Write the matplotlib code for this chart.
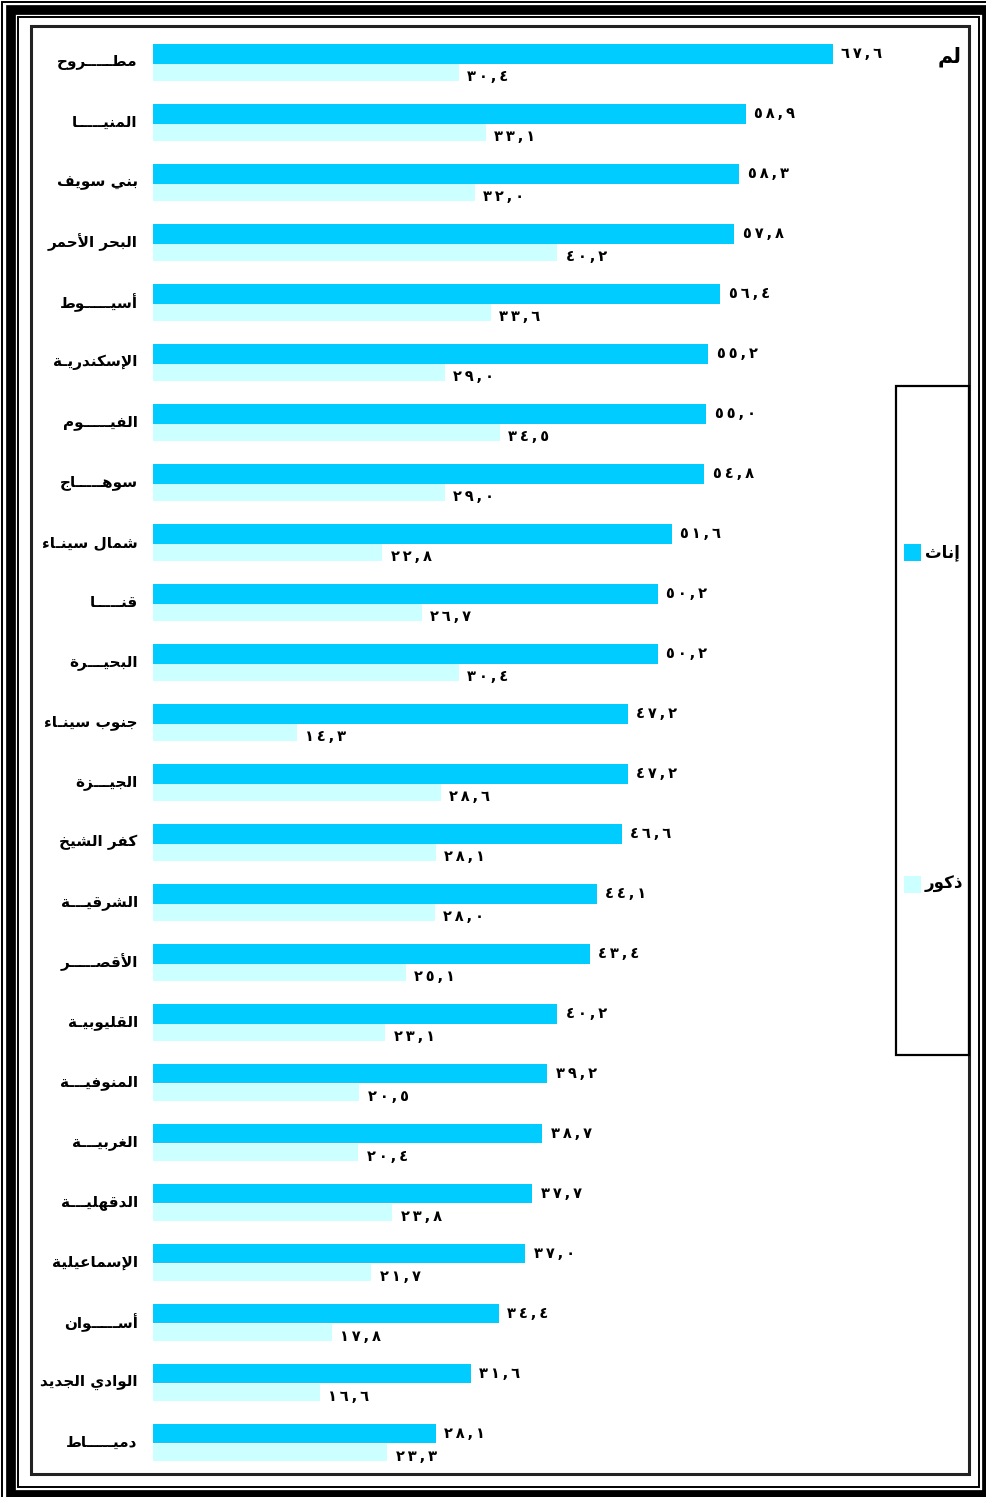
"""Horizontal bar chart by governorate: females vs males."""
import matplotlib
matplotlib.use("Agg")
import matplotlib.pyplot as plt
from matplotlib.patches import Rectangle

# Data.
governorates = [
    "مطـــــروح", "المنيـــــا", "بني سويف", "البحر الأحمر", "أسيـــــوط",
    "الإسكندريـة", "الفيـــــوم", "سوهـــــاج", "شمال سينـاء", "قنـــــا",
    "البحيـــرة", "جنوب سينـاء", "الجيـــزة", "كفر الشيخ", "الشرقيـــة",
    "الأقصـــــر", "القليوبيـة", "المنوفيـــة", "الغربيـــة", "الدقهليـــة",
    "الإسماعيلية", "أســـــوان", "الوادي الجديد", "دميـــــاط",
]
females = [67.6, 58.9, 58.3, 57.8, 56.4, 55.2, 55.0, 54.8, 51.6, 50.2,
           50.2, 47.2, 47.2, 46.6, 44.1, 43.4, 40.2, 39.2, 38.7, 37.7,
           37.0, 34.4, 31.6, 28.1]
males = [30.4, 33.1, 32.0, 40.2, 33.6, 29.0, 34.5, 29.0, 22.8, 26.7,
         30.4, 14.3, 28.6, 28.1, 28.0, 25.1, 23.1, 20.5, 20.4, 23.8,
         21.7, 17.8, 16.6, 23.3]
series_labels = ["إناث", "ذكور"]
series_colors = ["#00CCFF", "#CCFFFF"]
corner_text = "لم"

# Minimal Arabic shaping (matplotlib has no bidi / joining support).
FORMS = {
    "آ": ("\uFE81", "\uFE82"), "أ": ("\uFE83", "\uFE84"),
    "ؤ": ("\uFE85", "\uFE86"), "إ": ("\uFE87", "\uFE88"),
    "ا": ("\uFE8D", "\uFE8E"), "ة": ("\uFE93", "\uFE94"),
    "د": ("\uFEA9", "\uFEAA"), "ذ": ("\uFEAB", "\uFEAC"),
    "ر": ("\uFEAD", "\uFEAE"), "ز": ("\uFEAF", "\uFEB0"),
    "و": ("\uFEED", "\uFEEE"),
    "ئ": ("\uFE89", "\uFE8A", "\uFE8B", "\uFE8C"),
    "ب": ("\uFE8F", "\uFE90", "\uFE91", "\uFE92"),
    "ت": ("\uFE95", "\uFE96", "\uFE97", "\uFE98"),
    "ث": ("\uFE99", "\uFE9A", "\uFE9B", "\uFE9C"),
    "ج": ("\uFE9D", "\uFE9E", "\uFE9F", "\uFEA0"),
    "ح": ("\uFEA1", "\uFEA2", "\uFEA3", "\uFEA4"),
    "خ": ("\uFEA5", "\uFEA6", "\uFEA7", "\uFEA8"),
    "س": ("\uFEB1", "\uFEB2", "\uFEB3", "\uFEB4"),
    "ش": ("\uFEB5", "\uFEB6", "\uFEB7", "\uFEB8"),
    "ص": ("\uFEB9", "\uFEBA", "\uFEBB", "\uFEBC"),
    "ط": ("\uFEC1", "\uFEC2", "\uFEC3", "\uFEC4"),
    "ع": ("\uFEC9", "\uFECA", "\uFECB", "\uFECC"),
    "غ": ("\uFECD", "\uFECE", "\uFECF", "\uFED0"),
    "ف": ("\uFED1", "\uFED2", "\uFED3", "\uFED4"),
    "ق": ("\uFED5", "\uFED6", "\uFED7", "\uFED8"),
    "ك": ("\uFED9", "\uFEDA", "\uFEDB", "\uFEDC"),
    "ل": ("\uFEDD", "\uFEDE", "\uFEDF", "\uFEE0"),
    "م": ("\uFEE1", "\uFEE2", "\uFEE3", "\uFEE4"),
    "ن": ("\uFEE5", "\uFEE6", "\uFEE7", "\uFEE8"),
    "ه": ("\uFEE9", "\uFEEA", "\uFEEB", "\uFEEC"),
    "ي": ("\uFEF1", "\uFEF2", "\uFEF3", "\uFEF4"),
}
LAM_ALEF = {"آ": ("\uFEF5", "\uFEF6"), "أ": ("\uFEF7", "\uFEF8"),
            "إ": ("\uFEF9", "\uFEFA"), "ا": ("\uFEFB", "\uFEFC")}
TATWEEL = "\u0640"


def joins_next(c):
    return c == TATWEEL or (c in FORMS and len(FORMS[c]) == 4)


def joins_prev(c):
    return c == TATWEEL or c in FORMS


def shape(text):
    out = []
    i = 0
    while i < len(text):
        c = text[i]
        prev = text[i - 1] if i > 0 else ""
        nxt = text[i + 1] if i + 1 < len(text) else ""
        cp = bool(prev) and joins_next(prev)
        if c == "ل" and nxt in LAM_ALEF:
            out.append(LAM_ALEF[nxt][1 if cp else 0])
            i += 2
            continue
        if c in FORMS:
            f = FORMS[c]
            cn = bool(nxt) and len(f) == 4 and joins_prev(nxt)
            if cp and cn:
                out.append(f[3])
            elif cn:
                out.append(f[2])
            elif cp:
                out.append(f[1])
            else:
                out.append(f[0])
        else:
            out.append(c)
        i += 1
    return "".join(reversed(out))


def arabic_number(v):
    digits = "٠١٢٣٤٥٦٧٨٩"
    s = f"{v:.1f}".replace(".", ",")
    # spread the characters a little, as in the original
    return "\u2009".join(digits[int(ch)] if ch.isdigit() else ch for ch in s)


W, H = 986, 1497
plt.rcParams.update({'font.family': ['DejaVu Sans'], 'font.weight': 'bold'})
fig = plt.figure(figsize=(W / 100, H / 100), dpi=100)


def fx(px):
    return px / W


def fy(py):
    return 1 - py / H


def frame(x0, y0, x1, y1, lw, color="black"):
    fig.patches.append(Rectangle((fx(x0), fy(y1)), fx(x1) - fx(x0),
                                 fy(y0) - fy(y1), transform=fig.transFigure,
                                 fill=False, lw=lw, ec=color))


# Page border (thin / thick / thin) and inner frame.
frame(2, 2, 994, 1505, 1.4)
frame(10.5, 9.5, 987, 1495, 7)
frame(18, 17, 979, 1487, 1.4)
frame(31, 26, 969, 1474, 2.2, "#222222")

# Main axes: pixel 153 -> value 0, ~10.06 px per unit.
ax_l, ax_r, ax_t, ax_b = 153, 893, 26, 1473
ax = fig.add_axes([fx(ax_l), fy(ax_b), fx(ax_r) - fx(ax_l),
                   fy(ax_t) - fy(ax_b)])
ax.set_xlim(0, (ax_r - ax_l) / 10.06)
ax.set_ylim((ax_b - 63.5) / 60, (ax_t - 63.5) / 60)
ax.axis("off")

idx = list(range(len(governorates)))
ax.barh([i - 0.1625 for i in idx], females, height=0.325,
        color=series_colors[0], lw=0)
ax.barh([i + 0.145 for i in idx], males, height=0.29,
        color=series_colors[1], lw=0)

for i in idx:
    ax.annotate(arabic_number(females[i]), (females[i], i - 0.17),
                xytext=(6, 0), textcoords="offset points",
                ha="left", va="center", fontsize=10.5, fontweight="bold")
    ax.annotate(arabic_number(males[i]), (males[i], i + 0.22),
                xytext=(6, 0), textcoords="offset points",
                ha="left", va="center", fontsize=10.5, fontweight="bold")
    ax.annotate(shape(governorates[i]), (0, i - 0.02),
                xytext=(-11, 0), textcoords="offset points",
                ha="right", va="center", fontsize=11, fontweight="bold",
                annotation_clip=False)

# Legend box.
frame(896, 386, 969, 1055, 1.6)
for lab, col, py in zip(series_labels, series_colors, [552, 884]):
    fig.patches.append(Rectangle((fx(904), fy(py + 8.5)), fx(17), 17 / H,
                                 transform=fig.transFigure, color=col, lw=0))
    fig.text(fx(925), fy(py), shape(lab), ha="left", va="center",
             fontsize=12, fontweight="bold")

fig.text(fx(950), fy(57), shape(corner_text), ha="center", va="center",
         fontsize=15, fontweight="bold")

plt.savefig("out.png", dpi=100)
